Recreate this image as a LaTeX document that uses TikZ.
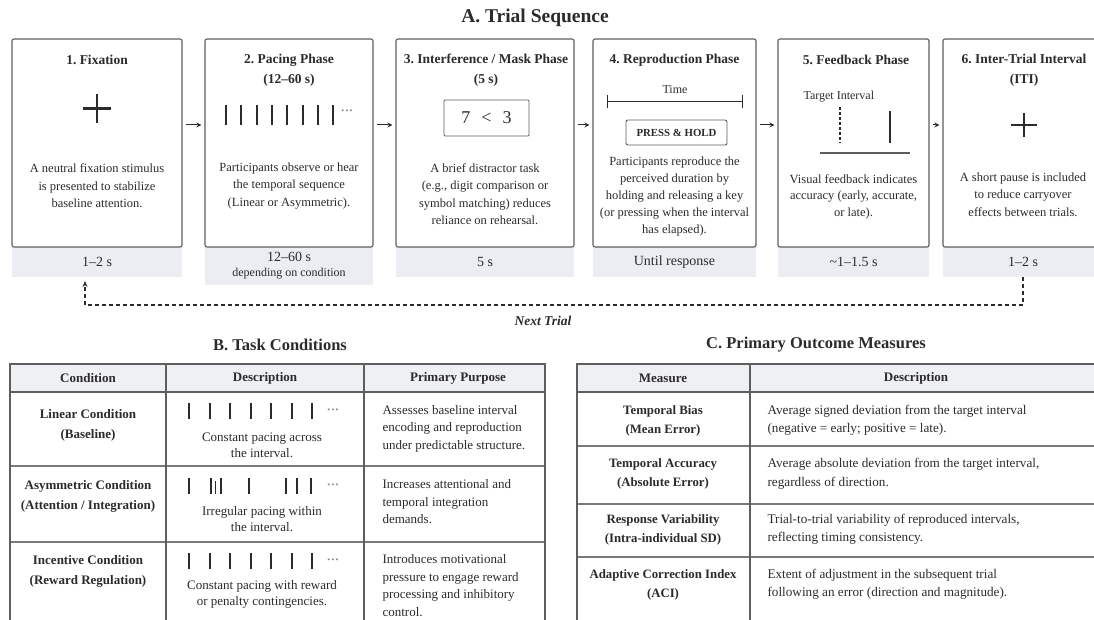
\documentclass[tikz,border=0pt]{standalone}
\usepackage{fontspec}
\setmainfont{Liberation Serif}
\usetikzlibrary{arrows.meta}
\definecolor{ink}{HTML}{2B2B2B}
\definecolor{frame}{HTML}{5E5E5E}
\definecolor{bandgray}{HTML}{EBEDF2}
\definecolor{headfill}{HTML}{EEF0F4}
\definecolor{rulegray}{HTML}{7A7A7A}
\frenchspacing
\begin{document}
\begin{tikzpicture}[
        x=1pt, y=-1pt,
        secttl/.style={font=\bfseries\fontsize{19.5}{22}\selectfont, text=ink},
        subttl/.style={font=\bfseries\fontsize{16.5}{19}\selectfont, text=ink},
        phase/.style={draw=frame, line width=1.1pt, rounded corners=2pt, fill=white, inner sep=0pt},
        strip/.style={fill=bandgray, inner sep=0pt, align=center, text=ink, font=\fontsize{14}{18}\selectfont},
        ttl/.style={font=\bfseries\fontsize{13.5}{20}\selectfont, align=center, text=ink},
        txt/.style={font=\fontsize{12.5}{17.5}\selectfont, align=center, text=ink},
        small/.style={font=\fontsize{12}{13}\selectfont, text=ink},
        dots/.style={font=\fontsize{8}{8}\selectfont, text=gray},
        flow/.style={-{Stealth[length=5pt,width=5pt]}, line width=1pt, ink, shorten <=3pt, shorten >=3pt},
        backflow/.style={-{Stealth[length=6pt,width=5pt]}, line width=1.1pt, ink, dash pattern=on 4pt off 3pt, shorten >=4pt},
        tick/.style={line width=2pt, ink},
        hdr/.style={font=\bfseries\fontsize{13}{15}\selectfont, text=ink},
        cellb/.style={font=\bfseries\fontsize{13}{20}\selectfont, align=center, text=ink},
        cellt/.style={font=\fontsize{13}{16}\selectfont, align=center, text=ink},
        celll/.style={font=\fontsize{13}{17.5}\selectfont, align=left, anchor=west, text=ink}
    ]
        \useasboundingbox (0,0) rectangle (1094,620);
        \clip (0,0) rectangle (1094,620);

        % A. Trial sequence
        \node[secttl] (secA) at (535,18) {A. Trial Sequence};

        % duration strips
        \node[strip, minimum width=170, minimum height=30] (s1) at (97,262) {1--2 s};
        \node[strip, minimum width=168, minimum height=38] (s2) at (289,266) {12--60 s\\[-3pt]{\fontsize{12}{14}\selectfont depending on condition}};
        \node[strip, minimum width=178, minimum height=30] (s3) at (485,262) {5 s};
        \node[strip, minimum width=163, minimum height=30] (s4) at (674.5,262) {Until response};
        \node[strip, minimum width=151, minimum height=30] (s5) at (853.5,262) {\textasciitilde1--1.5 s};
        \node[strip, minimum width=160, minimum height=30] (s6) at (1023,262) {1--2 s};

        % phase boxes
        \node[phase, minimum width=170, minimum height=208] (p1) at (97,143) {};
        \node[phase, minimum width=168, minimum height=208] (p2) at (289,143) {};
        \node[phase, minimum width=178, minimum height=208] (p3) at (485,143) {};
        \node[phase, minimum width=163, minimum height=208] (p4) at (674.5,143) {};
        \node[phase, minimum width=151, minimum height=208] (p5) at (853.5,143) {};
        \node[phase, minimum width=160, minimum height=208] (p6) at (1023,143) {};

        \foreach \a/\b in {p1/p2,p2/p3,p3/p4,p4/p5,p5/p6}
            \draw[flow] ([yshift=18pt]\a.east) -- ([yshift=18pt]\b.west);

        % titles
        \node[ttl] (t1) at (97,60) {1. Fixation};
        \node[ttl] (t2) at (289,70) {2. Pacing Phase\\(12--60 s)};
        \node[ttl] (t3) at (486,70) {3. Interference / Mask Phase\\(5 s)};
        \node[ttl] (t4) at (674.5,60) {4. Reproduction Phase};
        \node[ttl] (t5) at (856,60) {5. Feedback Phase};
        \node[ttl] (t6) at (1024,70) {6. Inter-Trial Interval\\(ITI)};

        % 1: fixation cross
        \draw[line width=2.4pt, ink] (83,108.5) -- (111,108.5) (97,94) -- (97,123);
        \node[txt] (d1) at (97,186) {A neutral fixation stimulus\\is presented to stabilize\\baseline attention.};

        % 2: pacing ticks
        \foreach \i in {0,...,7}
            \draw[tick] (226+15.3*\i,105) -- ++(0,20);
        \node[dots] (dots2) at (347,112) {\textbullet\,\textbullet\,\textbullet};
        \node[txt] (d2) at (289,186) {Participants observe or hear\\the temporal sequence\\(Linear or Asymmetric).};

        % 3: digit comparison
        \node[draw=frame, line width=0.9pt, rounded corners=1pt, minimum width=85, minimum height=36,
            font=\fontsize{18}{18}\selectfont, text=ink] (cmp) at (486.5,118) {7\hspace{11pt}<\hspace{11pt}3};
        \node[txt] (d3) at (485,194) {A brief distractor task\\(e.g., digit comparison or\\symbol matching) reduces\\reliance on rehearsal.};

        % 4: reproduction
        \node[small] (time) at (675,90) {Time};
        \draw[{Bar[width=13pt]}-{Bar[width=13pt]}, line width=1pt, ink] (607,102) -- (743,102);
        \node[draw=frame, line width=0.9pt, rounded corners=2pt, minimum width=101, minimum height=25,
            font=\bfseries\fontsize{10.8}{12}\selectfont, text=ink] (press) at (676.5,132.5) {PRESS \& HOLD};
        \node[txt, font=\fontsize{12.5}{16.8}\selectfont] (d4) at (674.5,196.5) {Participants reproduce the\\perceived duration by\\holding and releasing a key\\(or pressing when the interval\\has elapsed).};

        % 5: feedback
        \node[small, anchor=west] (target) at (800,97) {Target Interval};
        \draw[line width=1.2pt, ink, dash pattern=on 3pt off 2pt] (840,107) -- (840,143);
        \draw[tick] (890,111) -- (890,143);
        \draw[line width=1.3pt, frame] (820,153) -- (910,153);
        \node[txt, font=\fontsize{12.5}{16.5}\selectfont] (d5) at (853.5,196.5) {Visual feedback indicates\\accuracy (early, accurate,\\or late).};

        % 6: ITI cross
        \draw[line width=2.4pt, ink] (1011,125) -- (1037,125) (1024,113) -- (1024,137);
        \node[txt] (d6) at (1023,194.5) {A short pause is included\\to reduce carryover\\effects between trials.};

        % loop back to fixation
        \coordinate (turn) at (1023,305);
        \coordinate (ret) at (85,277);
        \draw[backflow] (s6.south) -- (turn) -- (turn -| ret) -- (ret);
        \node[font=\bfseries\itshape\fontsize{13.5}{15}\selectfont, text=ink] (next) at (543,321) {Next Trial};

        % B. Task conditions
        \node[subttl] (secB) at (280,345) {B. Task Conditions};
        \fill[headfill] (10,364) rectangle (545,392);
        \draw[rulegray, line width=1.1pt] (10,466) -- (545,466) (10,542) -- (545,542);
        \draw[frame, line width=1.3pt] (10,392) -- (545,392);
        \draw[frame, line width=1.1pt] (166,364) -- (166,640) (364,364) -- (364,640);
        \draw[frame, line width=1.2pt] (10,640) -- (10,364) -- (545,364) -- (545,640);

        \node[hdr] (bh1) at (88,378) {Condition};
        \node[hdr] (bh2) at (265,378) {Description};
        \node[hdr] (bh3) at (458,378) {Primary Purpose};

        \node[cellb] (bc1) at (88,425) {Linear Condition\\(Baseline)};
        \node[cellb] (bc2) at (88,496) {Asymmetric Condition\\(Attention / Integration)};
        \node[cellb] (bc3) at (88,571) {Incentive Condition\\(Reward Regulation)};

        \foreach \i in {0,...,6}
            \draw[tick] (189+20.5*\i,403) -- ++(0,16);
        \foreach \x in {189,210.5,221,249,286,297,311}
            \draw[tick] (\x,478) -- ++(0,16);
        \draw[line width=1.3pt, ink] (215.7,481) -- ++(0,13);
        \foreach \i in {0,...,6}
            \draw[tick] (189+20.5*\i,553) -- ++(0,16);
        \node[dots] (bd1) at (333,411) {\textbullet\,\textbullet\,\textbullet};
        \node[dots] (bd2) at (333,486) {\textbullet\,\textbullet\,\textbullet};
        \node[dots] (bd3) at (333,561) {\textbullet\,\textbullet\,\textbullet};

        \node[cellt] (bt1) at (262,445) {Constant pacing across\\the interval.};
        \node[cellt] (bt2) at (262,519.5) {Irregular pacing within\\the interval.};
        \node[cellt] (bt3) at (262,594.5) {Constant pacing with reward\\or penalty contingencies.};

        \node[celll] (bp1) at (379,428.5) {Assesses baseline interval\\encoding and reproduction\\under predictable structure.};
        \node[celll] (bp2) at (379,502) {Increases attentional and\\temporal integration\\demands.};
        \node[celll] (bp3) at (379,585.5) {Introduces motivational\\pressure to engage reward\\processing and inhibitory\\control.};

        % C. Primary outcome measures
        \node[subttl] (secC) at (816,345) {C. Primary Outcome Measures};
        \fill[headfill] (577,364) rectangle (1100,392);
        \draw[rulegray, line width=1.1pt] (577,446) -- (1100,446) (577,504) -- (1100,504) (577,557) -- (1100,557);
        \draw[frame, line width=1.3pt] (577,392) -- (1100,392);
        \draw[frame, line width=1.1pt] (750,364) -- (750,640);
        \draw[frame, line width=1.2pt] (577,640) -- (577,364) -- (1100,364);

        \node[hdr] (ch1) at (663,378) {Measure};
        \node[hdr] (ch2) at (916,378) {Description};

        \node[cellb, font=\bfseries\fontsize{12.8}{19}\selectfont] (cm1) at (663,420.5) {Temporal Bias\\(Mean Error)};
        \node[cellb, font=\bfseries\fontsize{12.8}{19}\selectfont] (cm2) at (663,474) {Temporal Accuracy\\(Absolute Error)};
        \node[cellb, font=\bfseries\fontsize{12.8}{19}\selectfont] (cm3) at (663,529.5) {Response Variability\\(Intra-individual SD)};
        \node[cellb, font=\bfseries\fontsize{12.8}{19}\selectfont] (cm4) at (663,584.5) {Adaptive Correction Index\\(ACI)};

        \node[celll, font=\fontsize{13.2}{18.5}\selectfont] (cd1) at (764,420.5) {Average signed deviation from the target interval\\(negative = early; positive = late).};
        \node[celll, font=\fontsize{13.2}{18.5}\selectfont] (cd2) at (764,474) {Average absolute deviation from the target interval,\\regardless of direction.};
        \node[celll, font=\fontsize{13.2}{18.5}\selectfont] (cd3) at (764,529.5) {Trial-to-trial variability of reproduced intervals,\\reflecting timing consistency.};
        \node[celll, font=\fontsize{13.2}{18.5}\selectfont] (cd4) at (764,584.5) {Extent of adjustment in the subsequent trial\\following an error (direction and magnitude).};
    \end{tikzpicture}
\end{document}
